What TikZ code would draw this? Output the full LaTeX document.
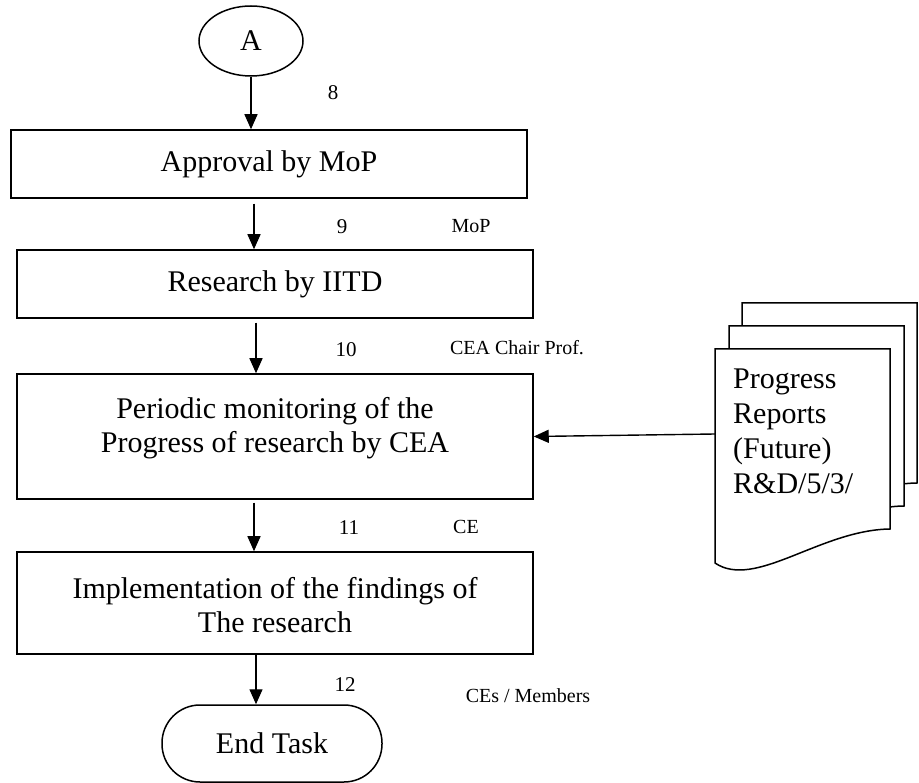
\documentclass[tikz,border=0pt]{standalone}
\usepackage{fontspec}
\setmainfont{Liberation Serif}
\usetikzlibrary{arrows.meta,shapes.geometric}
\begin{document}
\begin{tikzpicture}[x=1pt,y=-1pt,
  box/.style={draw, line width=1.5pt, minimum width=516pt, inner sep=0pt},
  big/.style={font=\fontsize{30}{34}\selectfont},
  num/.style={font=\fontsize{21}{24}\selectfont, inner sep=0pt},
  lab/.style={font=\fontsize{20}{22}\selectfont, inner sep=0pt},
  arr/.style={line width=1.4pt, -{Triangle[length=15pt,width=13pt]}},
  sheet/.style={draw, fill=white, line width=1.5pt}]
\useasboundingbox (0,0) rectangle (919,783);

\node[draw, ellipse, line width=1.5pt, minimum width=104pt, minimum height=70pt, big, inner sep=0pt] (A) at (251,41) {A};
\node[box, minimum height=68pt, big] (approval) at (269,164) {Approval by MoP};
\node[box, minimum height=68pt, big] (research) at (275,284) {Research by IITD};
\node[box, minimum height=125pt] (periodic) at (275,436.5) {};
\node[big, align=center] (periodictext) at (275,428) {Periodic monitoring of the\\Progress of research by CEA};
\node[box, minimum height=102pt] (impl) at (275,603) {};
\node[big, align=center] (impltext) at (275,605) {Implementation of the findings of\\The research};
\node[draw, rounded corners=38pt, line width=1.5pt, minimum width=220pt, minimum height=77pt, big] (endtask) at (272,743.5) {End Task};

\draw[arr] (A.south) -- (A.south |- approval.north);
\draw[arr] ([yshift=-5pt,xshift=3pt]approval.south -| A.south) -- ([xshift=3pt]research.north -| A.south);
\draw[arr] ([yshift=-4pt,xshift=5pt]research.south -| A.south) -- ([xshift=5pt]periodic.north -| A.south);
\draw[arr] ([yshift=-3pt,xshift=3pt]periodic.south -| A.south) -- ([xshift=3pt]impl.north -| A.south);
\draw[arr] ([xshift=5pt]impl.south -| A.south) -- ([xshift=5pt]endtask.north -| A.south);

\foreach \dx/\dy in {27/-46, 14/-23, 0/0} {
  \draw[sheet, shift={(\dx,\dy)}] (715,349) -- (890,349) -- (890,529)
    .. controls (820,530) and (755,590) .. (715,563) -- cycle;
}
\node[font=\fontsize{30}{35}\selectfont, align=left, anchor=west, inner sep=0pt] (doc) at (733,431) {Progress\\Reports\\(Future)\\R\&D/5/3/};
\coordinate (docin) at (715,434);
\draw[arr] (docin) -- (periodic.east);

\node[num] (n8) at (333,93) {8};
\node[num] (n9) at (342,227) {9};
\node[num] (n10) at (346,350) {10};
\node[num] (n11) at (349,528) {11};
\node[num] (n12) at (345,685) {12};
\node[lab] (l9) at (471,226) {MoP};
\node[lab] (l10) at (517,348) {CEA Chair Prof.};
\node[lab] (l11) at (466,527) {CE};
\node[lab] (l12) at (528,696) {CEs / Members};
\end{tikzpicture}
\end{document}
